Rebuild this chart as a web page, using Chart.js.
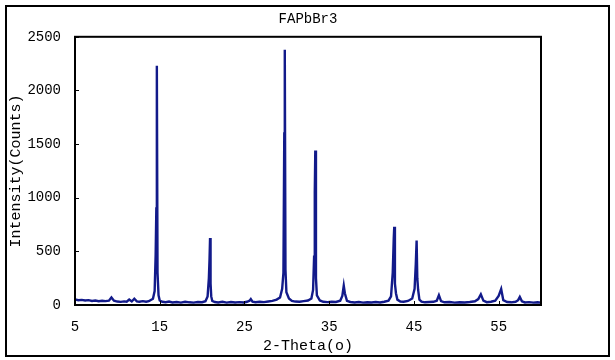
<!DOCTYPE html>
<html>
<head>
<meta charset="utf-8">
<script src="https://cdn.jsdelivr.net/npm/chart.js@4"></script>
<style>
  html, body { margin: 0; padding: 0; background: #fff; }
  #wrap { position: relative; width: 615px; height: 360px; }
  #frame {
    position: absolute; left: 5px; top: 5px; width: 605px; height: 352px;
    box-sizing: border-box; border: 2px solid #000; pointer-events: none;
  }
</style>
</head>
<body>
<div id="wrap">
  <canvas id="xrd" width="615" height="360"></canvas>
  <div id="frame"></div>
</div>
<script>
// XRD pattern of FAPbBr3
const twoTheta = [
  5.0, 5.4, 5.8, 6.2, 6.6, 7.0, 7.4, 7.8, 8.2, 8.6, 9.0, 9.3,
  9.6, 10.0, 10.4, 10.8, 11.1, 11.4, 11.7, 12.0, 12.3, 12.6, 13.0, 13.4,
  13.7, 13.9, 14.2, 14.4, 14.52, 14.6, 14.66, 14.74, 14.86, 15.0, 15.3,
  15.7, 16.1, 16.5, 17.0, 17.5, 18.0, 18.5, 19.0, 19.5, 20.0, 20.4, 20.65,
  20.8, 20.88, 20.94, 21.0, 21.08, 21.2, 21.5, 21.9, 22.4, 22.9, 23.4, 23.9,
  24.4, 24.9, 25.3, 25.6, 25.75, 25.95, 26.3, 26.8, 27.3, 27.8, 28.3, 28.8,
  29.2, 29.45, 29.6, 29.7, 29.76, 29.84, 29.95, 30.25, 30.6, 31.0, 31.5,
  32.0, 32.5, 32.9, 33.1, 33.22, 33.3, 33.36, 33.44, 33.55, 33.9, 34.3,
  34.8, 35.3, 35.8, 36.3, 36.55, 36.72, 36.85, 37.1, 37.5, 38.0, 38.5, 39.0,
  39.5, 40.0, 40.5, 41.0, 41.5, 42.0, 42.3, 42.5, 42.62, 42.68, 42.76, 42.88,
  43.05, 43.4, 43.8, 44.3, 44.8, 45.08, 45.22, 45.32, 45.4, 45.5, 45.65, 45.9,
  46.3, 46.8, 47.3, 47.7, 47.95, 48.2, 48.6, 49.2, 49.8, 50.4, 51.0, 51.6,
  52.2, 52.6, 52.9, 53.2, 53.6, 54.1, 54.6, 55.0, 55.3, 55.55, 56.0, 56.5,
  57.0, 57.3, 57.5, 57.75, 58.1, 58.6, 59.1, 59.6, 60.0
];
const counts = [
  52, 44, 48, 42, 45, 38, 42, 35, 40, 36, 40, 70,
  40, 32, 29, 34, 30, 50, 33, 58, 34, 30, 36, 30,
  35, 45, 58, 130, 470, 900, 2230, 300, 90, 42, 30,
  26, 32, 24, 28, 22, 30, 25, 22, 28, 26, 35, 80,
  250, 430, 625, 200, 80, 38, 28, 24, 30, 22, 28, 23,
  27, 24, 30, 40, 55, 32, 26, 30, 27, 33, 38, 50,
  70, 150, 300, 1600, 2380, 330, 120, 60, 38, 32, 30,
  36, 42, 60, 140, 450, 1050, 1440, 250, 90, 42, 30,
  27, 30, 28, 40, 85, 180, 110, 38, 28, 24, 28, 22,
  26, 23, 28, 24, 30, 40, 80, 300, 620, 730, 200, 110,
  50, 33, 30, 38, 60, 150, 380, 600, 250, 140, 50, 32,
  25, 28, 30, 40, 92, 36, 25, 28, 22, 26, 23, 28,
  35, 55, 100, 40, 26, 30, 40, 85, 150, 45, 28, 25,
  30, 45, 75, 35, 24, 27, 22, 25, 22
];
const xTicks = [5, 15, 25, 35, 45, 55];
const yTicks = [0, 500, 1000, 1500, 2000, 2500];

const FONT = "'Liberation Mono', 'DejaVu Sans Mono', monospace";

const points = twoTheta.map((x, i) => ({ x: x, y: counts[i] }));

// plot frame plus the small inward tick marks
const frameTicks = {
  id: 'frameTicks',
  afterDraw(chart) {
    const { ctx, chartArea: a, scales } = chart;
    ctx.save();
    ctx.strokeStyle = '#000';
    ctx.lineWidth = 1;
    xTicks.forEach((v) => {
      const px = Math.round(scales.x.getPixelForValue(v)) + 0.5;
      ctx.beginPath();
      ctx.moveTo(px, a.bottom);
      ctx.lineTo(px, a.bottom - 4);
      ctx.stroke();
    });
    yTicks.forEach((v) => {
      const py = Math.round(scales.y.getPixelForValue(v)) + 0.5;
      ctx.beginPath();
      ctx.moveTo(a.left, py);
      ctx.lineTo(a.left + 4, py);
      ctx.stroke();
    });
    ctx.lineWidth = 2;
    ctx.strokeRect(a.left, a.top, a.right - a.left, a.bottom - a.top);
    ctx.restore();
  },
};

new Chart(document.getElementById('xrd'), {
  type: 'scatter',
  data: {
    datasets: [
      {
        label: 'FAPbBr3',
        data: points,
        showLine: true,
        borderColor: '#121a8a',
        borderWidth: 2.4,
        pointRadius: 0,
        tension: 0,
      },
    ],
  },
  options: {
    responsive: false,
    animation: false,
    devicePixelRatio: 1,
    layout: { padding: { left: 0, right: 74, top: 0, bottom: 0 } },
    plugins: {
      legend: { display: false },
      tooltip: { enabled: false },
      title: {
        display: true,
        text: 'FAPbBr3',
        fullSize: false,
        color: '#000',
        font: { family: FONT, size: 14, weight: 'normal' },
        padding: { top: 11, bottom: 9 },
      },
    },
    scales: {
      x: {
        type: 'linear',
        min: 5,
        max: 60,
        afterBuildTicks: (scale) => {
          scale.ticks = xTicks.map((v) => ({ value: v }));
        },
        afterFit: (scale) => {
          scale.height = 55;
        },
        grid: { display: false, drawTicks: false },
        border: { display: false },
        ticks: {
          color: '#000',
          padding: 14,
          maxRotation: 0,
          callback: (v) => String(v),
          font: { family: FONT, size: 14 },
        },
        title: {
          display: true,
          text: '2-Theta(o)',
          color: '#000',
          font: { family: FONT, size: 15 },
          padding: { top: 0, bottom: 5 },
        },
      },
      y: {
        min: 0,
        max: 2500,
        afterBuildTicks: (scale) => {
          scale.ticks = yTicks.map((v) => ({ value: v }));
        },
        afterFit: (scale) => {
          scale.width = 75;
        },
        grid: { display: false, drawTicks: false },
        border: { display: false },
        ticks: {
          color: '#000',
          padding: 14,
          callback: (v) => String(v),
          font: { family: FONT, size: 14 },
        },
        title: {
          display: true,
          text: 'Intensity(Counts)',
          color: '#000',
          font: { family: FONT, size: 15 },
          padding: { top: 7, bottom: 0 },
        },
      },
    },
  },
  plugins: [frameTicks],
});
</script>
</body>
</html>
